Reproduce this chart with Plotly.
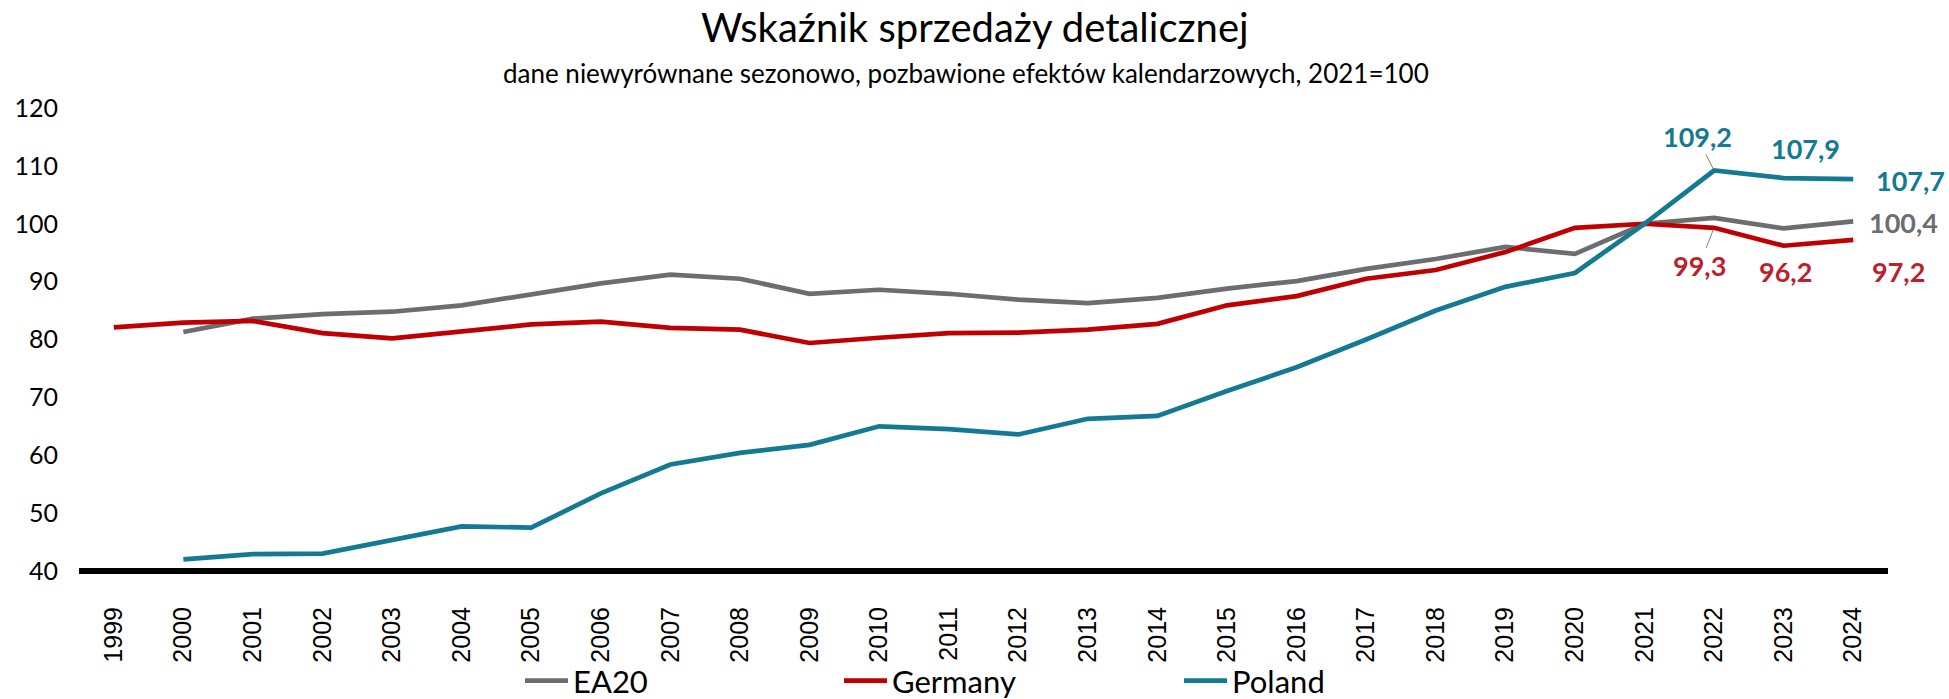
import plotly.graph_objects as go

# Retail sales index, 2021 = 100
years = [str(y) for y in range(1999, 2025)]

ea20 = [None, 81.3, 83.6, 84.4, 84.8, 85.9, 87.8, 89.7, 91.2, 90.5, 87.9, 88.6, 87.9,
        86.9, 86.3, 87.2, 88.8, 90.1, 92.2, 93.9, 96.0, 94.8, 100.0, 101.0, 99.2, 100.4]
germany = [82.1, 82.9, 83.2, 81.1, 80.2, 81.5, 82.6, 83.1, 82.0, 81.7, 79.4, 80.3, 81.1,
           81.2, 81.7, 82.7, 85.9, 87.5, 90.5, 92.0, 95.1, 99.3, 100.0, 99.3, 96.2, 97.2]
poland = [None, 42.0, 42.9, 43.0, 45.4, 47.7, 47.5, 53.4, 58.4, 60.4, 61.8, 65.0, 64.5,
          63.6, 66.3, 66.8, 71.1, 75.2, 80.0, 85.0, 89.1, 91.5, 100.0, 109.2, 107.9, 107.7]

y_ticks = [40, 50, 60, 70, 80, 90, 100, 110, 120]

C_EA = "#6b6e70"
C_DE = "#c00000"
C_PL = "#147a94"
C_DE_LBL = "#be1e2d"

SANS = "Lato, 'Noto Sans', sans-serif"

W, H = 1949, 699
M_L, M_R, M_T, M_B = 79, 61, 108, 128
PLOT_W = W - M_L - M_R
PLOT_H = H - M_T - M_B


def px_x(x):
    return (x - M_L) / PLOT_W


def px_y(y):
    return (H - M_B - y) / PLOT_H


fig = go.Figure()
fig.add_trace(go.Scatter(x=years, y=ea20, name="EA20", mode="lines",
                         line=dict(color=C_EA, width=4.7), legend="legend"))
fig.add_trace(go.Scatter(x=years, y=germany, name="Germany", mode="lines",
                         line=dict(color=C_DE, width=4.7), legend="legend2"))
fig.add_trace(go.Scatter(x=years, y=poland, name="Poland", mode="lines",
                         line=dict(color=C_PL, width=4.7), legend="legend3"))


def fmt(v):
    return f"{v:.1f}".replace(".", ",")


def idx(year):
    # category position on the x axis
    return years.index(year)


lbl_font = dict(family=SANS, size=27, color=C_PL, weight="bold")
annotations = []

# Poland labels
i = idx("2022")
annotations.append(dict(x=i, y=poland[i], text=fmt(poland[i]), showarrow=True,
                        arrowhead=0, arrowwidth=1, arrowcolor="#7f7f7f",
                        ax=-17, ay=-34, standoff=2, font=lbl_font))
i = idx("2023")
annotations.append(dict(x=i, y=poland[i], text=fmt(poland[i]), showarrow=False,
                        xshift=22, yshift=30, font=lbl_font))
i = idx("2024")
annotations.append(dict(x=i, y=poland[i], text=fmt(poland[i]), showarrow=False,
                        xshift=57, yshift=-1, font=lbl_font))

# EA20 label
i = idx("2024")
annotations.append(dict(x=i, y=ea20[i], text=fmt(ea20[i]), showarrow=False,
                        xshift=50, yshift=-1, font=dict(lbl_font, color=C_EA)))

# Germany labels
de_font = dict(lbl_font, color=C_DE_LBL)
i = idx("2022")
annotations.append(dict(x=i, y=germany[i], text=fmt(germany[i]), showarrow=True,
                        arrowhead=0, arrowwidth=1, arrowcolor="#7f7f7f",
                        ax=-15, ay=38, standoff=2, font=de_font))
i = idx("2023")
annotations.append(dict(x=i, y=germany[i], text=fmt(germany[i]), showarrow=False,
                        xshift=2, yshift=-26, font=de_font))
i = idx("2024")
annotations.append(dict(x=i, y=germany[i], text=fmt(germany[i]), showarrow=False,
                        xshift=45, yshift=-32, font=de_font))

# Titles
annotations.append(dict(xref="paper", yref="paper", x=px_x(975), y=px_y(27),
                        text="Wskaźnik sprzedaży detalicznej", showarrow=False,
                        font=dict(family=SANS, size=40, color="#000000"),
                        xanchor="center", yanchor="middle"))
annotations.append(dict(xref="paper", yref="paper", x=px_x(966), y=px_y(73),
                        text="dane niewyrównane sezonowo, pozbawione efektów kalendarzowych, 2021=100",
                        showarrow=False,
                        font=dict(family=SANS, size=26, color="#000000"),
                        xanchor="center", yanchor="middle"))

legend_common = dict(orientation="h", xref="container", yref="container",
                     xanchor="left", yanchor="middle", y=1 - 681 / H,
                     font=dict(family=SANS, size=31, color="#000000"),
                     bgcolor="rgba(0,0,0,0)", itemwidth=43)

fig.update_layout(
    width=W, height=H,
    margin=dict(l=M_L, r=M_R, t=M_T, b=M_B, autoexpand=False),
    paper_bgcolor="white", plot_bgcolor="white",
    showlegend=True,
    legend=dict(legend_common, x=520 / W),
    legend2=dict(legend_common, x=839 / W),
    legend3=dict(legend_common, x=1179 / W),
    annotations=annotations,
    xaxis=dict(type="category", range=[-0.5, len(years) - 0.5], automargin=False,
               showgrid=False, zeroline=False, showline=False,
               tickangle=-90, ticks="", ticklabelstandoff=30,
               tickfont=dict(family="'Liberation Sans', Arial, sans-serif", size=25,
                             color="#000000")),
    yaxis=dict(range=[40, 120], tickvals=y_ticks, automargin=False,
               showgrid=False, zeroline=False,
               showline=False, ticks="", ticklabelstandoff=20,
               tickfont=dict(family=SANS, size=25, color="#000000")),
    # baseline drawn along the bottom edge of the plotting area
    shapes=[dict(type="line", xref="paper", yref="paper", x0=0, x1=1, y0=0, y1=0,
                 line=dict(color="#000000", width=6), layer="below")],
)

fig.write_html("out.html")
